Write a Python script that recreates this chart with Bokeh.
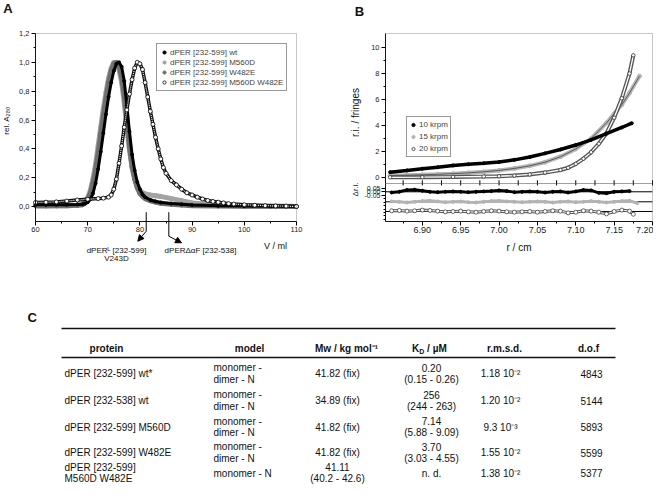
import math
from bokeh.plotting import figure
from bokeh.layouts import column, row
from bokeh.models import (Range1d, FixedTicker, Label, Arrow, NormalHead, Legend,
                          LegendItem, BoxAnnotation, LinearAxis, CustomJSTickFormatter,
                          NumeralTickFormatter)
from bokeh.core.properties import value
from bokeh.embed import file_html
from bokeh.resources import INLINE

FONT = "Liberation Sans"

# ---------------- Panel A: SEC elution profiles ----------------
vol_wt = [60, 62, 64, 66, 68, 69, 69.5, 70, 70.5, 71, 71.5, 72, 72.5, 73, 73.5, 74, 74.5, 75,
          75.5, 76, 76.5, 77, 77.5, 78, 78.5, 79, 79.5, 80, 80.5, 81, 82, 83, 84, 86, 88, 90,
          95, 100, 105, 110]
abs_wt = [0.012, 0.012, 0.012, 0.013, 0.014, 0.016, 0.02, 0.03, 0.05, 0.09, 0.16, 0.26, 0.38,
          0.51, 0.64, 0.76, 0.86, 0.94, 0.99, 1.0, 0.97, 0.87, 0.7, 0.52, 0.36, 0.25, 0.17,
          0.12, 0.085, 0.065, 0.045, 0.035, 0.028, 0.02, 0.015, 0.01, 0.005, 0.003, 0.002, 0.001]

vol_m560d = [60, 62, 64, 66, 68, 69, 69.5, 70, 70.5, 71, 71.5, 72, 72.5, 73, 73.5, 74, 74.5, 75,
             75.5, 76, 76.5, 77, 77.5, 78, 78.5, 79, 79.5, 80, 80.5, 81, 82, 83, 84, 86, 88, 90,
             95, 100, 105, 110]
abs_m560d = [0.004, 0.004, 0.005, 0.006, 0.009, 0.016, 0.03, 0.06, 0.11, 0.19, 0.29, 0.42, 0.55,
             0.68, 0.79, 0.89, 0.96, 1.0, 0.99, 0.95, 0.86, 0.72, 0.55, 0.39, 0.27, 0.19, 0.14,
             0.11, 0.095, 0.088, 0.08, 0.075, 0.07, 0.055, 0.04, 0.025, 0.008, 0.004, 0.002, 0.0]

vol_w482e = [60, 62, 64, 66, 68, 69, 69.5, 70, 70.5, 71, 71.5, 72, 72.5, 73, 73.5, 74, 74.5, 75,
             75.5, 76, 76.5, 77, 77.5, 78, 78.5, 79, 79.5, 80, 80.5, 81, 82, 83, 84, 86, 88, 90,
             95, 100, 105, 110]
abs_w482e = [0.005, 0.005, 0.005, 0.006, 0.008, 0.012, 0.025, 0.05, 0.09, 0.16, 0.25, 0.37, 0.5,
             0.63, 0.75, 0.86, 0.94, 0.99, 1.0, 0.97, 0.9, 0.77, 0.6, 0.42, 0.28, 0.19, 0.13,
             0.09, 0.07, 0.055, 0.04, 0.03, 0.022, 0.015, 0.01, 0.006, 0.003, 0.002, 0.001, 0.0]

vol_dm = [60, 62, 64, 66, 68, 70, 72, 73, 74, 74.5, 75, 75.5, 76, 76.5, 77, 77.5, 78, 78.5, 79,
          79.5, 80, 80.5, 81, 81.5, 82, 82.5, 83, 83.5, 84, 84.5, 85, 86, 87, 88, 89, 90, 91, 92,
          93, 94, 95, 96, 97, 98, 100, 102, 104, 106, 108, 110]
abs_dm = [0.028, 0.03, 0.032, 0.038, 0.045, 0.05, 0.055, 0.058, 0.065, 0.08, 0.12, 0.19, 0.3,
          0.42, 0.55, 0.67, 0.78, 0.88, 0.96, 1.0, 0.99, 0.95, 0.86, 0.76, 0.66, 0.57, 0.48, 0.4,
          0.33, 0.27, 0.23, 0.18, 0.15, 0.12, 0.095, 0.08, 0.065, 0.052, 0.042, 0.035, 0.03,
          0.025, 0.02, 0.017, 0.012, 0.009, 0.006, 0.004, 0.003, 0.0]

labels_a = ["dPER [232-599] wt", "dPER [232-599] M560D", "dPER [232-599] W482E",
            "dPER [232-599] M560D W482E"]
xticks_a = [60, 70, 80, 90, 100, 110]
xminor_a = [65, 75, 85, 95, 105]
yticks_a = [0.0, 0.2, 0.4, 0.6, 0.8, 1.0, 1.2]
yminor_a = [0.1, 0.3, 0.5, 0.7, 0.9, 1.1]

# ---------------- Panel B: sedimentation equilibrium ----------------
r_10 = [6.858, 6.88, 6.90, 6.92, 6.94, 6.96, 6.98, 7.00, 7.02, 7.04, 7.06, 7.08, 7.10, 7.12,
        7.14, 7.16, 7.173]
f_10 = [0.41, 0.55, 0.68, 0.8, 0.93, 1.02, 1.1, 1.2, 1.36, 1.58, 1.86, 2.16, 2.5, 2.9, 3.38,
        3.85, 4.18]
r_15 = [6.858, 6.88, 6.90, 6.92, 6.94, 6.96, 6.98, 7.00, 7.02, 7.04, 7.06, 7.08, 7.10, 7.12,
        7.14, 7.15, 7.16, 7.17, 7.183]
f_15 = [0.15, 0.18, 0.21, 0.25, 0.3, 0.36, 0.44, 0.55, 0.7, 0.9, 1.18, 1.6, 2.2, 3.0, 4.2, 4.9,
        5.6, 6.5, 7.8]
r_20 = [6.858, 6.90, 6.94, 6.98, 7.00, 7.02, 7.04, 7.06, 7.08, 7.09, 7.10, 7.11, 7.12, 7.13,
        7.14, 7.15, 7.16, 7.17, 7.175]
f_20 = [0.02, 0.03, 0.05, 0.08, 0.1, 0.15, 0.24, 0.38, 0.58, 0.75, 1.05, 1.45, 1.95, 2.6, 3.4,
        4.6, 6.1, 8.0, 9.4]

r_res10 = [6.86, 6.87, 6.88, 6.89, 6.90, 6.91, 6.92, 6.93, 6.94, 6.95, 6.96, 6.97, 6.98, 6.99,
           7.00, 7.01, 7.02, 7.03, 7.04, 7.05, 7.06, 7.07, 7.08, 7.09, 7.10, 7.11, 7.12, 7.13,
           7.14, 7.15, 7.16, 7.17]
res_10 = [-0.01, 0.0, 0.025, 0.03, 0.015, 0.0, -0.005, 0.0, 0.005, 0.0, -0.005, 0.0, 0.005,
          0.01, 0.02, 0.01, -0.005, 0.0, 0.005, 0.0, -0.01, 0.0, 0.005, -0.01, 0.005, 0.025,
          0.02, -0.015, -0.02, 0.0, 0.005, 0.01]
r_res15 = [6.86, 6.87, 6.88, 6.89, 6.90, 6.91, 6.92, 6.93, 6.94, 6.95, 6.96, 6.97, 6.98, 6.99,
           7.00, 7.01, 7.02, 7.03, 7.04, 7.05, 7.06, 7.07, 7.08, 7.09, 7.10, 7.11, 7.12, 7.13,
           7.14, 7.15, 7.16, 7.17, 7.18]
res_15 = [0.005, 0.0, -0.01, 0.0, 0.01, 0.015, 0.005, -0.005, 0.0, 0.005, -0.005, -0.01, 0.0,
          0.01, 0.015, 0.005, 0.0, -0.005, 0.0, 0.005, 0.0, -0.01, 0.0, 0.005, -0.005, 0.0,
          0.01, 0.0, -0.01, 0.0, 0.01, 0.015, -0.02]
r_res20 = [6.86, 6.87, 6.88, 6.89, 6.90, 6.91, 6.92, 6.93, 6.94, 6.95, 6.96, 6.97, 6.98, 6.99,
           7.00, 7.01, 7.02, 7.03, 7.04, 7.05, 7.06, 7.07, 7.08, 7.09, 7.10, 7.11, 7.12, 7.13,
           7.14, 7.15, 7.16, 7.17, 7.175]
res_20 = [0.01, 0.015, 0.005, 0.01, 0.02, 0.015, 0.005, -0.005, 0.0, 0.005, -0.005, -0.01, 0.0,
          0.01, 0.005, -0.005, -0.01, -0.005, 0.0, -0.01, 0.0, 0.01, 0.005, -0.02, -0.01, 0.01,
          0.005, -0.01, -0.035, 0.0, 0.02, 0.005, -0.04]
res_offsets = [0.0, -0.145, -0.285]
labels_b = ["10 krpm", "15 krpm", "20 krpm"]
xticks_b = [6.90, 6.95, 7.00, 7.05, 7.10, 7.15, 7.20]
xminor_b = [6.875, 6.925, 6.975, 7.025, 7.075, 7.125, 7.175]
yticks_b = [0, 2, 4, 6, 8, 10]
yminor_b = [1, 3, 5, 7, 9]
yticks_res = [0.05, 0.0, -0.05]
yminor_res = [-0.1, -0.15, -0.2, -0.25, -0.3, -0.35, -0.4]

# ---------------- Panel C: table ----------------
headers = ["protein", "model", "Mw / kg mol\u207b\u00b9", "K|D|/ \u00b5M", "r.m.s.d.", "d.o.f"]
proteins = ["dPER [232-599] wt*", "dPER [232-538] wt", "dPER [232-599] M560D",
            "dPER [232-599] W482E", "dPER [232-599]\nM560D W482E"]
models = ["monomer -\ndimer - N", "monomer -\ndimer - N", "monomer -\ndimer - N",
          "monomer -\ndimer - N", "monomer - N"]
mw = ["41.82 (fix)", "34.89 (fix)", "41.82 (fix)", "41.82 (fix)", "41.11\n(40.2 - 42.6)"]
kd = ["0.20\n(0.15 - 0.26)", "256\n(244 - 263)", "7.14\n(5.88 - 9.09)", "3.70\n(3.03 - 4.55)",
      "n. d."]
rmsd = ["1.18 10\u207b\u00b2", "1.20 10\u207b\u00b2", "9.3 10\u207b\u00b3", "1.55 10\u207b\u00b2",
        "1.38 10\u207b\u00b2"]
dof = ["4843", "5144", "5893", "5599", "5377"]


def style_axes(p, size):
    for ax in p.axis:
        ax.axis_line_color = "black"
        ax.major_tick_line_color = "black"
        ax.minor_tick_line_color = "black"
        ax.major_tick_out = 4
        ax.major_tick_in = 0
        ax.minor_tick_out = 2
        ax.minor_tick_in = 0
        ax.major_label_text_font = FONT
        ax.major_label_text_font_size = size
        ax.major_label_text_color = "#222222"
        ax.major_label_standoff = 2


def lab(p, x, y, text, size, angle=0.0, bold=False, align="center", **kw):
    p.add_layout(Label(x=x, y=y, text=text, angle=angle, text_font=FONT,
                       text_font_size=size, text_font_style="bold" if bold else "normal",
                       text_align=align, text_baseline="middle", text_color="#111111", **kw))


# ======== Figure A (whole panel is the frame; axes at fixed positions) ========
A_BOX = (60, 110, -0.104, 1.2)
pa = figure(width=322, height=292, x_range=Range1d(53.295, 114.98),
            y_range=Range1d(-0.5965, 1.4289), output_backend="svg", toolbar_location=None,
            min_border=0)
pa.grid.visible = False
pa.outline_line_color = None
pa.xaxis.fixed_location = A_BOX[2]
pa.xaxis.bounds = (A_BOX[0], A_BOX[1])
pa.yaxis.fixed_location = A_BOX[0]
pa.yaxis.bounds = (A_BOX[2], A_BOX[3])
pa.xaxis.ticker = FixedTicker(ticks=xticks_a, minor_ticks=xminor_a)
pa.yaxis.ticker = FixedTicker(ticks=yticks_a, minor_ticks=yminor_a)
pa.yaxis.formatter = CustomJSTickFormatter(code="return tick.toFixed(1).replace('.', ',');")
style_axes(pa, "7.5px")
pa.add_layout(BoxAnnotation(left=A_BOX[0], right=A_BOX[1], bottom=A_BOX[2], top=A_BOX[3],
                            fill_alpha=0, line_color="#444444", line_width=1))

pa.line(vol_m560d, abs_m560d, line_color="#a3a3a3", line_width=5)
s_m = pa.scatter(vol_m560d, abs_m560d, size=4, color="#a3a3a3")
pa.line(vol_w482e, abs_w482e, line_color="#6f6f6f", line_width=5)
s_w = pa.scatter(vol_w482e, abs_w482e, size=4, color="#6f6f6f")
pa.line(vol_wt, abs_wt, line_color="black", line_width=3)
s_wt = pa.scatter(vol_wt, abs_wt, size=3, color="black")
pa.line(vol_dm, abs_dm, line_color="#111111", line_width=3.5)
pa.line(vol_dm, abs_dm, line_color="white", line_width=1.2, line_dash="1 1")
s_dm = pa.scatter(vol_dm, abs_dm, size=4, fill_color="white", line_color="black", line_width=0.8)

legA = Legend(items=[LegendItem(label=labels_a[0], renderers=[s_wt]),
                     LegendItem(label=labels_a[1], renderers=[s_m]),
                     LegendItem(label=labels_a[2], renderers=[s_w]),
                     LegendItem(label=labels_a[3], renderers=[s_dm])],
              location=(156, 201))
legA.padding = 3
legA.spacing = 0
legA.margin = 0
legA.label_text_font = FONT
legA.label_text_font_size = "8px"
legA.label_height = 10
legA.glyph_height = 10
legA.glyph_width = 8
legA.label_standoff = 2
legA.border_line_color = "#333333"
pa.add_layout(legA)

lab(pa, 54.73, 1.3734, "A", "13px", bold=True)
lab(pa, 54.445, 0.5966, "rel. A\u2082\u2088\u2080", "8px", angle=math.pi / 2)
lab(pa, 105.98, -0.2705, "V / ml", "9px")
pa.add_layout(Arrow(end=None, x_start=81.21, y_start=-0.0395, x_end=81.21, y_end=-0.1713,
                    line_width=1))
pa.add_layout(Arrow(end=NormalHead(size=6, fill_color="black", line_color="black"),
                    x_start=81.21, y_start=-0.1713, x_end=79.6, y_end=-0.2407, line_width=1))
pa.add_layout(Arrow(end=None, x_start=85.54, y_start=-0.0395, x_end=85.54, y_end=-0.206,
                    line_width=1))
pa.add_layout(Arrow(end=NormalHead(size=6, fill_color="black", line_color="black"),
                    x_start=85.54, y_start=-0.206, x_end=87.97, y_end=-0.2518, line_width=1))
lab(pa, 75.52, -0.305, "dPER\u1d38 [232-599]", "8px")
lab(pa, 75.52, -0.3607, "V243D", "8px")
lab(pa, 91.61, -0.305, "dPER\u0394\u03b1F [232-538]", "8px")

# ======== Figure B (main + residuals in one frame) ========
B_X = (6.852, 7.2)
B_MAIN_Y = (-0.46, 11.08)
B_RES_Y = (-0.43, 0.12)
B_RES_BOTTOM_MAIN = -3.3815     # residual panel bottom expressed in main y units
pb = figure(width=331, height=292, x_range=Range1d(6.7699, 7.2013),
            y_range=Range1d(-8.843, 13.618), output_backend="svg", toolbar_location=None,
            min_border=0)
pb.extra_y_ranges = {"res": Range1d(-1.4576, 2.7687)}
pb.grid.visible = False
pb.outline_line_color = None

pb.yaxis.fixed_location = B_X[0]
pb.yaxis.bounds = B_MAIN_Y
pb.yaxis.ticker = FixedTicker(ticks=yticks_b, minor_ticks=yminor_b)
pb.xaxis.fixed_location = B_RES_BOTTOM_MAIN
pb.xaxis.bounds = B_X
pb.xaxis.ticker = FixedTicker(ticks=xticks_b, minor_ticks=xminor_b)
pb.xaxis.formatter = NumeralTickFormatter(format="0.00")
res_axis = LinearAxis(y_range_name="res", fixed_location=B_X[0], bounds=B_RES_Y,
                      ticker=FixedTicker(ticks=yticks_res, minor_ticks=yminor_res),
                      formatter=NumeralTickFormatter(format="0.00"))
pb.add_layout(res_axis, "left")
style_axes(pb, "7.5px")
pb.xaxis.major_label_text_font_size = "9px"
res_axis.major_label_text_font_size = "7px"
res_axis.major_label_standoff = 1

pb.add_layout(BoxAnnotation(left=B_X[0], right=B_X[1], bottom=B_MAIN_Y[0], top=B_MAIN_Y[1],
                            fill_alpha=0, line_color="#444444", line_width=1))
pb.add_layout(BoxAnnotation(left=B_X[0], right=B_X[1], bottom=B_RES_Y[0], top=B_RES_Y[1],
                            fill_alpha=0, line_color="#444444", line_width=1,
                            y_range_name="res"))
# tick marks on the divider between the two panels
div_ticks = xticks_b + xminor_b
pb.segment(x0=div_ticks, x1=div_ticks, y0=[B_MAIN_Y[0] - 0.15] * len(div_ticks),
           y1=[B_MAIN_Y[0] + 0.25] * len(div_ticks), line_color="black", line_width=1)

pb.line(r_15, f_15, line_color="#b5b5b5", line_width=4)
s15 = pb.scatter(r_15, f_15, size=4, color="#b5b5b5")
pb.line(r_15, f_15, line_color="#444444", line_width=0.8)
pb.line(r_20, f_20, line_color="#555555", line_width=4)
pb.line(r_20, f_20, line_color="white", line_width=1.3)
s20 = pb.scatter(r_20, f_20, size=3.5, fill_color="white", line_color="#333333", line_width=0.8)
pb.line(r_10, f_10, line_color="black", line_width=3.5)
s10 = pb.scatter(r_10, f_10, size=3, color="black")

# residuals
pb.segment(x0=[B_X[0]] * 3, x1=[B_X[1]] * 3, y0=res_offsets, y1=res_offsets,
           line_color="black", line_width=1, y_range_name="res")
pb.line(r_res10, [v + res_offsets[0] for v in res_10], line_color="black", line_width=3,
        y_range_name="res")
pb.scatter(r_res10, [v + res_offsets[0] for v in res_10], size=3, color="black",
           y_range_name="res")
pb.line(r_res15, [v + res_offsets[1] for v in res_15], line_color="#b3b3b3", line_width=3,
        y_range_name="res")
pb.scatter(r_res15, [v + res_offsets[1] for v in res_15], size=3, color="#b3b3b3",
           y_range_name="res")
pb.line(r_res20, [v + res_offsets[2] for v in res_20], line_color="#555555", line_width=3,
        y_range_name="res")
pb.line(r_res20, [v + res_offsets[2] for v in res_20], line_color="white", line_width=1,
        y_range_name="res")
pb.scatter(r_res20, [v + res_offsets[2] for v in res_20], size=4, fill_color="white",
           line_color="#444444", line_width=0.8, y_range_name="res")

legB = Legend(items=[LegendItem(label=labels_b[0], renderers=[s10]),
                     LegendItem(label=labels_b[1], renderers=[s15]),
                     LegendItem(label=labels_b[2], renderers=[s20])],
              location=(84, 135))
legB.padding = 2
legB.spacing = 1
legB.margin = 0
legB.label_text_font = FONT
legB.label_text_font_size = "8px"
legB.label_height = 11
legB.glyph_height = 11
legB.glyph_width = 8
legB.label_standoff = 2
legB.border_line_color = "#333333"
pb.add_layout(legB)

lab(pb, 6.8181, 12.77, "B", "13px", bold=True)
lab(pb, 6.8129, 5.003, "r.i. / fringes", "10px", angle=math.pi / 2)
lab(pb, 6.8129, 0.033, "\u0394r.i.", "8px", angle=math.pi / 2, y_range_name="res")
lab(pb, 7.026, -0.806, "r / cm", "10px", y_range_name="res")

# ======== Figure C (table) ========
pc = figure(width=653, height=192, x_range=Range1d(0, 653), y_range=Range1d(192, 0),
            output_backend="svg", toolbar_location=None, min_border=0,
            x_axis_type=None, y_axis_type=None)
pc.grid.visible = False
pc.outline_line_color = None

TS = "10px"
row_centers = [81, 108, 134.5, 160, 180.5]
half = 5.9
left_cols = {0: 64, 1: 213}
center_cols = {2: 337, 3: 431, 4: 500, 5: 591}
header_x = [106, 249, 346, 429, 504, 588]
header_y = 56

cells = [proteins, models, mw, kd, rmsd, dof]
tx, ty, ta = [], [], []
cx, cy, ct = [], [], []
for ci, col in enumerate(cells):
    for ri, cell in enumerate(col):
        lines = cell.split("\n")
        n = len(lines)
        for li, txt in enumerate(lines):
            yy = row_centers[ri] + (li - (n - 1) / 2) * 2 * half
            if ci in left_cols:
                tx.append(left_cols[ci]); ty.append(yy); ta.append(txt)
            else:
                cx.append(center_cols[ci]); cy.append(yy); ct.append(txt)

common = dict(text_font=value(FONT), text_baseline=value("middle"), text_color="#111111")
pc.text(x=tx, y=ty, text=ta, text_font_size=value(TS), text_align=value("left"), **common)
pc.text(x=cx, y=cy, text=ct, text_font_size=value(TS), text_align=value("center"), **common)

hx, hy, ht = [], [], []
for i, h in enumerate(headers):
    if "|" in h:
        continue
    hx.append(header_x[i]); hy.append(header_y); ht.append(h)
pc.text(x=hx, y=hy, text=ht, text_font_size=value(TS), text_font_style=value("bold"),
        text_align=value("center"), **common)
kd_parts = headers[3].split("|")
kd_left = header_x[3] - 17.5
pc.text(x=[kd_left], y=[header_y], text=[kd_parts[0]], text_font_size=value(TS),
        text_font_style=value("bold"), text_align=value("left"), **common)
pc.text(x=[kd_left + 7.2], y=[header_y + 2.5], text=[kd_parts[1]], text_font_size=value("7px"),
        text_font_style=value("bold"), text_align=value("left"), **common)
pc.text(x=[kd_left + 15.1], y=[header_y], text=[kd_parts[2]], text_font_size=value(TS),
        text_font_style=value("bold"), text_align=value("left"), **common)

pc.segment(x0=[61, 61], y0=[36, 65], x1=[615, 615], y1=[36, 65], line_color="#111111",
           line_width=1.4)
pc.text(x=[27], y=[25], text=["C"], text_font_size=value("13px"), text_font_style=value("bold"),
        text_align=value("left"), **common)

layout = column(row(pa, pb), pc)
open("out.html", "w").write(file_html(layout, INLINE))
